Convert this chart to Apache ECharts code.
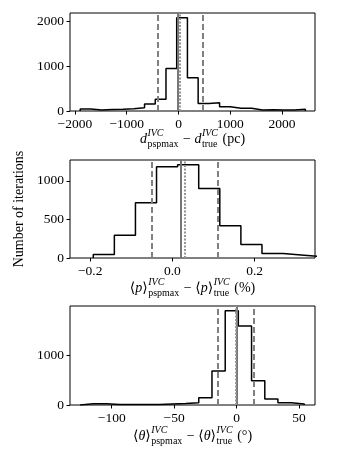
<!DOCTYPE html>
<html>
<head>
<meta charset="utf-8">
<script src="https://cdn.jsdelivr.net/npm/echarts@6/dist/echarts.min.js"></script>
<style>
  html, body { margin: 0; padding: 0; background: #fff; }
  #chart { width: 350px; height: 450px; }
</style>
</head>
<body>
<div id="chart"></div>
<script>
// distance difference (pc)
const distEdges = [-1898, -1691, -1484, -1277, -1070, -863, -656, -449, -242, -35, 172,
                   379, 586, 793, 1000, 1207, 1414, 1621, 1828, 2035, 2242, 2449];
const distCounts = [45, 22, 35, 40, 50, 75, 155, 260, 950, 2085, 745,
                    170, 185, 95, 60, 60, 22, 30, 20, 20, 40];
const distXTicks = [-2000, -1000, 0, 1000, 2000];
const distYTicks = [0, 1000, 2000];
const distDashed = [-405, 470];
const distSolid = -12;
const distDotted = 27;

// polarisation fraction difference (%)
const pEdges = [-0.1924, -0.1411, -0.0898, -0.0385, 0.0128, 0.0641, 0.1154,
                0.1667, 0.2180, 0.2693, 0.3206, 0.3719];
const pCounts = [44, 295, 714, 1182, 1209, 901, 416, 174, 57, 35, 13];
const pXTicks = [-0.2, 0.0, 0.2];
const pYTicks = [0, 500, 1000];
const pDashed = [-0.0534, 0.1106];
const pSolid = 0.0245;
const pDotted = 0.0285;

// angle difference (deg)
const thEdges = [-125.3, -114.7, -104.2, -93.6, -83.1, -72.5, -61.9, -51.4, -40.8,
                 -30.3, -19.7, -9.1, 1.4, 12.0, 22.6, 33.1, 43.7, 54.2];
const thCounts = [25, 25, 12, 12, 12, 12, 22, 28, 45, 145, 680, 1885, 1580, 487, 120, 47, 20];
const thXTicks = [-100, -50, 0, 50];
const thYTicks = [0, 1000];
const thDashed = [-15.1, 13.9];
const thSolid = 0.4;
const thDotted = -0.6;

const FONT = '"Liberation Serif", "DejaVu Serif", serif';
const minus = s => String(s).replace('-', '\u2212');

function stepPath(edges, counts) {
  const pts = [[edges[0], 0]];
  counts.forEach((c, i) => {
    pts.push([edges[i], c]);
    pts.push([edges[i + 1], c]);
  });
  pts.push([edges[edges.length - 1], 0]);
  return pts;
}

function vlines(dashed, solid, dotted) {
  const gray = '#808080';
  return {
    silent: true,
    symbol: 'none',
    label: { show: false },
    animation: false,
    data: [
      { xAxis: dashed[0], lineStyle: { color: gray, width: 2, type: [6, 3] } },
      { xAxis: dashed[1], lineStyle: { color: gray, width: 2, type: [6, 3] } },
      { xAxis: solid, lineStyle: { color: '#777', width: 2, type: 'solid' } },
      { xAxis: dotted, lineStyle: { color: '#959595', width: 2, type: [2, 1.5] } }
    ]
  };
}

// math-like axis titles built from text pieces
const ctx = document.createElement('canvas').getContext('2d');
function tw(s, font) { ctx.font = font; return ctx.measureText(s).width; }

function mathLabel(parts, cx, cy) {
  const main = '14px ' + FONT, mainIt = 'italic 14px ' + FONT;
  const scr = '10px ' + FONT, scrIt = 'italic 10px ' + FONT;
  const items = [];
  let x = 0;
  parts.forEach(p => {
    if (p.t !== undefined) {
      const f = p.it ? mainIt : main;
      items.push({ text: p.t, x: x, dy: 0, font: f });
      x += tw(p.t, f);
    } else {
      const w1 = tw(p.sup, scrIt), w2 = tw(p.sub, scr);
      items.push({ text: p.sup, x: x + 0.5, dy: -6, font: scrIt });
      items.push({ text: p.sub, x: x + 0.5, dy: 5, font: scr });
      x += Math.max(w1, w2) + 1.5;
    }
  });
  const x0 = cx - x / 2;
  return {
    type: 'group',
    silent: true,
    children: items.map(it => ({
      type: 'text',
      style: {
        text: it.text, x: x0 + it.x, y: cy + it.dy, font: it.font, fill: '#000',
        textAlign: 'left', align: 'left', textVerticalAlign: 'middle', verticalAlign: 'middle'
      }
    }))
  };
}

const grids = [
  { left: 70, top: 13, width: 245, height: 98 },
  { left: 70, top: 160, width: 245, height: 98 },
  { left: 70, top: 306, width: 245, height: 99 }
].map(g => Object.assign(g, { show: true, borderColor: '#000', borderWidth: 1 }));

function xAxis(i, min, max, ticks, fmt) {
  return {
    gridIndex: i, type: 'value', min: min, max: max,
    axisLine: { show: false, onZero: false },
    splitLine: { show: false },
    axisTick: { show: true, customValues: ticks, length: 3.5, lineStyle: { color: '#000' } },
    axisLabel: { customValues: ticks, formatter: fmt, margin: 6, color: '#000', fontFamily: FONT, fontSize: 13.5 }
  };
}
function yAxis(i, max, ticks) {
  return {
    gridIndex: i, type: 'value', min: 0, max: max,
    axisLine: { show: false, onZero: false },
    splitLine: { show: false },
    axisTick: { show: true, customValues: ticks, length: 3.5, lineStyle: { color: '#000' } },
    axisLabel: { customValues: ticks, formatter: v => String(v), margin: 6, color: '#000', fontFamily: FONT, fontSize: 13.5 }
  };
}

const yAxes = [yAxis(0, 2190, distYTicks), yAxis(1, 1269, pYTicks), yAxis(2, 1980, thYTicks)];
Object.assign(yAxes[1], {
  name: 'Number of iterations', nameLocation: 'middle', nameRotate: 90, nameGap: 41,
  nameTextStyle: { color: '#000', fontFamily: FONT, fontSize: 14 }
});

function histSeries(i, edges, counts, lines) {
  return {
    type: 'line', xAxisIndex: i, yAxisIndex: i,
    data: stepPath(edges, counts),
    showSymbol: false, symbol: 'none',
    lineStyle: { color: '#000', width: 1.5 },
    clip: true,
    markLine: lines
  };
}

const chart = echarts.init(document.getElementById('chart'), null, { renderer: 'canvas' });
chart.setOption({
  animation: false,
  backgroundColor: '#fff',
  grid: grids,
  xAxis: [
    xAxis(0, -2095, 2635, distXTicks, v => minus(v)),
    xAxis(1, -0.249, 0.347, pXTicks, v => minus(v.toFixed(1))),
    xAxis(2, -133.4, 62.8, thXTicks, v => minus(v))
  ],
  yAxis: yAxes,
  series: [
    histSeries(0, distEdges, distCounts, vlines(distDashed, distSolid, distDotted)),
    histSeries(1, pEdges, pCounts, vlines(pDashed, pSolid, pDotted)),
    histSeries(2, thEdges, thCounts, vlines(thDashed, thSolid, thDotted))
  ],
  graphic: [
    mathLabel([{ t: 'd', it: true }, { sup: 'IVC', sub: 'pspmax' }, { t: ' \u2212 ' },
               { t: 'd', it: true }, { sup: 'IVC', sub: 'true' }, { t: ' (pc)' }], 192.5, 139),
    mathLabel([{ t: '\u27E8' }, { t: 'p', it: true }, { t: '\u27E9' }, { sup: 'IVC', sub: 'pspmax' },
               { t: ' \u2212 \u27E8' }, { t: 'p', it: true }, { t: '\u27E9' }, { sup: 'IVC', sub: 'true' },
               { t: ' (%)' }], 192.5, 288),
    mathLabel([{ t: '\u27E8' }, { t: '\u03B8', it: true }, { t: '\u27E9' }, { sup: 'IVC', sub: 'pspmax' },
               { t: ' \u2212 \u27E8' }, { t: '\u03B8', it: true }, { t: '\u27E9' }, { sup: 'IVC', sub: 'true' },
               { t: ' (\u00B0)' }], 192.5, 436)
  ]
});
</script>
</body>
</html>
